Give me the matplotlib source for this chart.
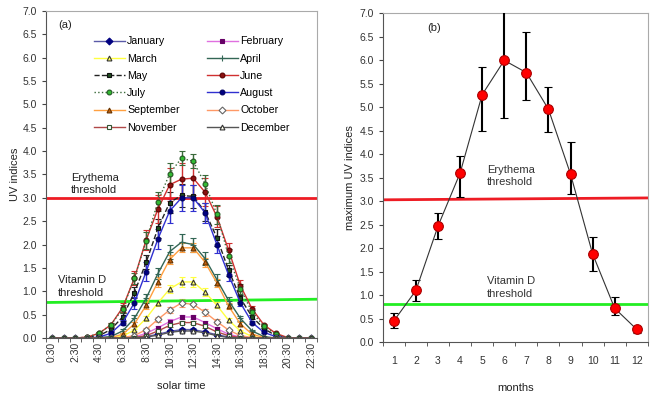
import matplotlib
matplotlib.use("Agg")
import matplotlib.pyplot as plt

plt.rcParams['font.family'] = ['Liberation Sans', 'DejaVu Sans']

# solar time categories (0:30 .. 22:30)
hours = ['%d:30' % h for h in range(23)]

months = ['January', 'February', 'March', 'April', 'May', 'June',
          'July', 'August', 'September', 'October', 'November', 'December']

uv = {
    'January':   [0, 0, 0, 0, 0, 0, 0, 0, 0.03, 0.08, 0.14, 0.18, 0.18, 0.13, 0.07, 0.02, 0, 0, 0, 0, 0, 0, 0],
    'February':  [0, 0, 0, 0, 0, 0, 0, 0.02, 0.10, 0.22, 0.35, 0.45, 0.45, 0.33, 0.20, 0.08, 0.02, 0, 0, 0, 0, 0, 0],
    'March':     [0, 0, 0, 0, 0, 0, 0.04, 0.17, 0.42, 0.75, 1.05, 1.20, 1.20, 0.98, 0.70, 0.38, 0.15, 0.03, 0, 0, 0, 0, 0],
    'April':     [0, 0, 0, 0, 0.01, 0.03, 0.15, 0.42, 0.85, 1.38, 1.85, 2.05, 2.00, 1.70, 1.25, 0.80, 0.42, 0.15, 0.03, 0, 0, 0, 0],
    'May':       [0, 0, 0, 0.01, 0.05, 0.18, 0.45, 0.97, 1.62, 2.35, 2.90, 3.05, 3.03, 2.70, 2.15, 1.45, 0.85, 0.45, 0.20, 0.05, 0, 0, 0],
    'June':      [0, 0, 0, 0.02, 0.10, 0.28, 0.65, 1.28, 2.10, 2.76, 3.28, 3.40, 3.42, 3.12, 2.60, 1.88, 1.12, 0.62, 0.28, 0.10, 0.01, 0, 0],
    'July':      [0, 0, 0, 0.02, 0.10, 0.28, 0.62, 1.28, 2.08, 2.92, 3.52, 3.85, 3.78, 3.30, 2.65, 1.75, 1.05, 0.55, 0.25, 0.08, 0, 0, 0],
    'August':    [0, 0, 0, 0, 0.02, 0.10, 0.33, 0.75, 1.42, 2.12, 2.72, 3.00, 3.00, 2.68, 2.00, 1.35, 0.75, 0.33, 0.12, 0.03, 0, 0, 0],
    'September': [0, 0, 0, 0, 0, 0.01, 0.08, 0.30, 0.70, 1.20, 1.68, 1.93, 1.93, 1.62, 1.18, 0.68, 0.30, 0.08, 0.01, 0, 0, 0, 0],
    'October':   [0, 0, 0, 0, 0, 0, 0.01, 0.05, 0.18, 0.40, 0.60, 0.75, 0.72, 0.55, 0.35, 0.17, 0.05, 0.01, 0, 0, 0, 0, 0],
    'November':  [0, 0, 0, 0, 0, 0, 0, 0.01, 0.05, 0.15, 0.27, 0.33, 0.33, 0.25, 0.13, 0.05, 0.01, 0, 0, 0, 0, 0, 0],
    'December':  [0, 0, 0, 0, 0, 0, 0, 0, 0.02, 0.06, 0.12, 0.15, 0.15, 0.11, 0.05, 0.01, 0, 0, 0, 0, 0, 0, 0],
}

uv_err = {
    'January':   [0, 0, 0, 0, 0, 0, 0, 0, 0.01, 0.02, 0.03, 0.03, 0.03, 0.03, 0.02, 0.01, 0, 0, 0, 0, 0, 0, 0],
    'February':  [0, 0, 0, 0, 0, 0, 0, 0.01, 0.03, 0.04, 0.05, 0.05, 0.05, 0.04, 0.03, 0.02, 0.01, 0, 0, 0, 0, 0, 0],
    'March':     [0, 0, 0, 0, 0, 0, 0.01, 0.03, 0.05, 0.07, 0.08, 0.10, 0.10, 0.08, 0.06, 0.04, 0.02, 0, 0, 0, 0, 0, 0],
    'April':     [0, 0, 0, 0, 0, 0.01, 0.04, 0.08, 0.10, 0.12, 0.15, 0.17, 0.15, 0.14, 0.12, 0.08, 0.05, 0.02, 0, 0, 0, 0, 0],
    'May':       [0, 0, 0, 0, 0.01, 0.04, 0.08, 0.12, 0.15, 0.20, 0.22, 0.25, 0.25, 0.20, 0.18, 0.12, 0.08, 0.05, 0.02, 0.01, 0, 0, 0],
    'June':      [0, 0, 0, 0, 0.02, 0.05, 0.10, 0.15, 0.22, 0.30, 0.35, 0.35, 0.35, 0.30, 0.22, 0.15, 0.12, 0.06, 0.03, 0.01, 0, 0, 0],
    'July':      [0, 0, 0, 0, 0.02, 0.04, 0.08, 0.12, 0.18, 0.20, 0.22, 0.15, 0.15, 0.18, 0.20, 0.15, 0.10, 0.06, 0.03, 0.01, 0, 0, 0],
    'August':    [0, 0, 0, 0, 0.01, 0.03, 0.06, 0.12, 0.20, 0.22, 0.25, 0.28, 0.28, 0.22, 0.18, 0.12, 0.07, 0.04, 0.02, 0, 0, 0, 0],
    'September': [0, 0, 0, 0, 0, 0, 0.02, 0.05, 0.08, 0.10, 0.10, 0.10, 0.10, 0.10, 0.08, 0.06, 0.04, 0.01, 0, 0, 0, 0, 0],
    'October':   [0, 0, 0, 0, 0, 0, 0, 0.02, 0.04, 0.06, 0.07, 0.08, 0.10, 0.08, 0.06, 0.03, 0.01, 0, 0, 0, 0, 0, 0],
    'November':  [0, 0, 0, 0, 0, 0, 0, 0.01, 0.02, 0.03, 0.04, 0.04, 0.04, 0.03, 0.02, 0.01, 0, 0, 0, 0, 0, 0, 0],
    'December':  [0, 0, 0, 0, 0, 0, 0, 0, 0.01, 0.02, 0.03, 0.03, 0.03, 0.02, 0.01, 0.01, 0, 0, 0, 0, 0, 0, 0],
}

# line colour, line style, marker, marker face, marker edge
styles = {
    'January':   ('#5a5aa8', '-', 'D', '#000080', '#000080'),
    'February':  ('#e070e0', '-', 's', '#660066', '#660066'),
    'March':     ('#ffff40', '-', '^', '#ffff66', '#333333'),
    'April':     ('#336655', '-', '+', '#336655', '#336655'),
    'May':       ('#222222', '--', 's', '#1f4f1f', '#111111'),
    'June':      ('#d03030', '-', 'o', '#8b1010', '#5a0000'),
    'July':      ('#3a6a3a', ':', 'o', '#33bb33', '#225522'),
    'August':    ('#3030d0', '-', 'o', '#000080', '#000060'),
    'September': ('#ffa040', '-', '^', '#c06010', '#663300'),
    'October':   ('#ff9966', '-', 'D', '#ffffff', '#666666'),
    'November':  ('#b04848', '-', 's', '#ffffff', '#335533'),
    'December':  ('#555555', '-', '^', '#ffffee', '#333333'),
}

# monthly maxima (panel b)
month_num = list(range(1, 13))
uv_max = [0.45, 1.10, 2.47, 3.60, 5.27, 6.00, 5.74, 4.96, 3.58, 1.88, 0.72, 0.27]
uv_max_lo = [0.14, 0.22, 0.27, 0.52, 0.77, 1.23, 0.59, 0.48, 0.42, 0.36, 0.15, 0.07]
uv_max_hi = [0.17, 0.22, 0.28, 0.37, 0.59, 1.23, 0.86, 0.47, 0.69, 0.35, 0.25, 0.05]

erythema_a = [3.0, 3.0]
vitd_a = [0.76, 0.83]
erythema_b = [3.03, 3.07]
vitd_b = [0.82, 0.82]

fig = plt.figure(figsize=(6.6, 3.95), dpi=100)
ax1 = fig.add_axes([0.0697, 0.1443, 0.4106, 0.828])
ax2 = fig.add_axes([0.580, 0.134, 0.4015, 0.832])

x = list(range(len(hours)))
lines = {}
for m in months:
    lc, ls, mk, mf, me = styles[m]
    cont = ax1.errorbar(x, uv[m], yerr=uv_err[m], color=lc, ls=ls, lw=1,
                        marker=mk, markersize=3.5 if mk != '+' else 5,
                        markerfacecolor=mf, markeredgecolor=me, markeredgewidth=0.8,
                        ecolor=lc, elinewidth=1, capsize=2.5)
    lines[m] = cont[0]

ax1.plot([-0.5, 22.5], erythema_a, color='#ee1c24', lw=2)
ax1.plot([-0.5, 22.5], vitd_a, color='#22ee22', lw=2)

ax1.set_xlim(-0.5, 22.5)
ax1.set_ylim(0, 7)
ax1.set_xticks(x[::2])
ax1.set_xticklabels(hours[::2], rotation=90)
ax1.set_xticks([i + 0.5 for i in range(-1, 23)], minor=True)
ax1.tick_params(axis='x', which='major', length=0, pad=3)
ax1.tick_params(axis='x', which='minor', length=3, direction='out', color='#444444')
ax1.set_xlabel('solar time', fontsize=8, color='#222222', labelpad=9)
ax1.set_ylabel('UV indices', fontsize=8, color='#222222', labelpad=2)

ax1.text(0.5, 6.7, '(a)', fontsize=8, color='#222222', va='center')
ax1.text(1.6, 3.05, 'Erythema\nthreshold', fontsize=8, color='#222222', va='bottom', linespacing=1.3)
ax1.text(0.5, 0.86, 'Vitamin D\nthreshold', fontsize=8, color='#222222', va='bottom', linespacing=1.3)

# legend fills row by row: odd months in column 1, even months in column 2
order = months[0::2] + months[1::2]
leg = ax1.legend([lines[m] for m in order], order, ncol=2, frameon=False, fontsize=7.7,
                 loc='upper left', bbox_to_anchor=(0.14, 0.952),
                 handlelength=2.9, handletextpad=0.25, columnspacing=2.5,
                 labelspacing=0.68)

ax2.errorbar(month_num, uv_max, yerr=[uv_max_lo, uv_max_hi], color='#333333', lw=0.8,
             marker='o', markersize=7, markerfacecolor='#ff0000',
             markeredgecolor='#aa0000', markeredgewidth=0.8,
             ecolor='black', elinewidth=1.5, capsize=3, capthick=1.5, zorder=3)
ax2.plot([0.5, 12.5], erythema_b, color='#ee1c24', lw=2)
ax2.plot([0.5, 12.5], vitd_b, color='#22ee22', lw=2)

ax2.set_xlim(0.5, 12.5)
ax2.set_ylim(0, 7)
ax2.set_xticks(month_num)
ax2.set_xticks([i + 0.5 for i in range(0, 13)], minor=True)
ax2.tick_params(axis='x', which='major', length=0, pad=10)
ax2.tick_params(axis='x', which='minor', length=3, direction='out', color='#444444')
ax2.set_xlabel('months', fontsize=8, color='#222222', labelpad=12)
ax2.set_ylabel('maximum UV indices', fontsize=8, color='#222222', labelpad=3)

ax2.text(2.5, 6.7, '(b)', fontsize=8, color='#222222', va='center')
ax2.text(5.23, 3.3, 'Erythema\nthreshold', fontsize=8, color='#333333', va='bottom', linespacing=1.3)
ax2.text(5.23, 0.92, 'Vitamin D\nthreshold', fontsize=8, color='#333333', va='bottom', linespacing=1.3)

for ax in (ax1, ax2):
    ax.set_yticks([i * 0.5 for i in range(15)])
    ax.set_yticklabels(['%.1f' % (i * 0.5) for i in range(15)])
    ax.tick_params(axis='y', length=3, direction='out', color='#444444')
    ax.tick_params(labelsize=7.5, labelcolor='#333333')
    ax.spines['left'].set_color('#555555')
    ax.spines['bottom'].set_color('#555555')
    ax.spines['top'].set_color('#aaaaaa')
    ax.spines['right'].set_color('#aaaaaa')

fig.savefig('out.png', dpi=100)
